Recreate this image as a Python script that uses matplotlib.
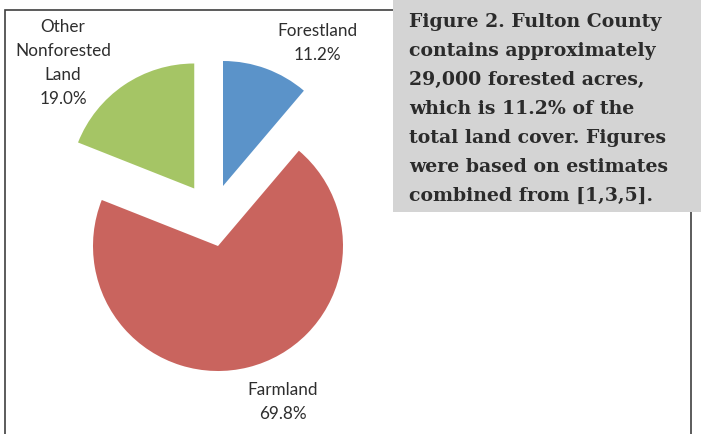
import matplotlib
matplotlib.use('Agg')
import matplotlib.pyplot as plt
from matplotlib.patches import Rectangle

labels = ['Forestland', 'Farmland', 'Other\nNonforested\nLand']
shares = [11.2, 69.8, 19.0]
colors = ['#5b93c9', '#c9645e', '#a5c565']
caption = ('Figure 2. Fulton County\ncontains approximately\n29,000 forested acres,\n'
           'which is 11.2% of the\ntotal land cover. Figures\nwere based on estimates\n'
           'combined from [1,3,5].')

W, H = 701, 435
R = 125.0              # pie radius in px
cx, cy = 218.0, 247.0  # pie centre, px from top left
# slices are pulled out like the excel chart, (dx, dy) in radius units
pull = [(0.04, 0.48), (0.0, 0.0), (-0.19, 0.46)]
label_pos = [(317, 43), (283, 402), (63, 63)]


def px(x, y):
    return x / W, 1 - y / H


fig = plt.figure(figsize=(W / 100, H / 100), dpi=100)
ax = fig.add_axes([0, 0, 1, 1])
wedges, _ = ax.pie(shares, colors=colors, startangle=90, counterclock=False, radius=1)
for w, (dx, dy) in zip(wedges, pull):
    w.set_center((dx, dy))
ax.set_aspect('auto')
ax.set_xlim(-cx / R, (W - cx) / R)
ax.set_ylim(-(H - cy) / R, cy / R)
ax.axis('off')

for lab, share, (x, y) in zip(labels, shares, label_pos):
    fig.text(*px(x, y), f'{lab}\n{share:.1f}%', ha='center', va='center',
             fontsize=12.3, family='Lato', color='#2e2e2e', linespacing=1.6)

# chart border
x0, y0 = px(5, 440)
fig.add_artist(Rectangle((x0, y0), 686 / W, 429 / H, transform=fig.transFigure,
                         fill=False, edgecolor='#404040', linewidth=1.2))

# caption box
bx, by = px(393, 213)
fig.add_artist(Rectangle((bx, by), (W - 393) / W, 213 / H, transform=fig.transFigure,
                         facecolor='#d4d4d4', edgecolor='none'))
fig.text(*px(409, 13), caption, ha='left', va='top', fontsize=13.6, family='DejaVu Serif',
         weight='bold', color='#2b2b2b', linespacing=1.78)

fig.savefig('out.png', dpi=100)
